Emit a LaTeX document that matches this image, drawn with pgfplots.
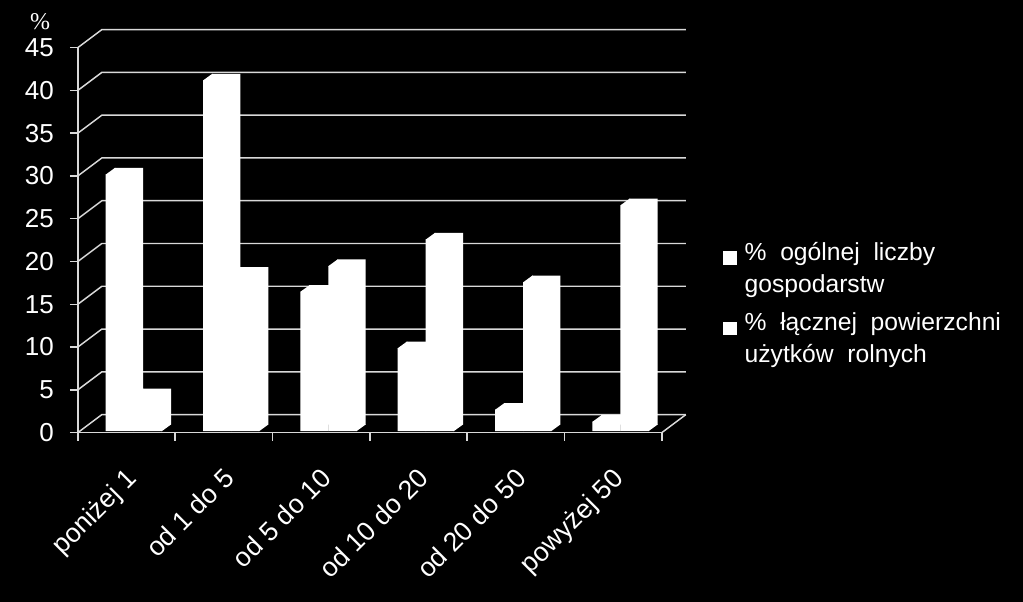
\documentclass[border=0pt]{standalone}
\usepackage{fontspec}
\setmainfont{Liberation Sans}
\newfontfamily\serifp{Liberation Serif}
\usepackage{pgfplots}
\usepackage{pgfplotstable}
\pgfplotsset{compat=1.18}
\definecolor{gl}{HTML}{D9D9D9}
\pgfplotstableread{
xc s1 s2
0.5 30.0 4.2
1.5 41.0 18.4
2.5 16.3 19.3
3.5 9.7 22.4
4.5 2.5 17.4
5.5 1.1 26.4
}\datatab
% corner pieces of the 3-D bars (1px = 0.75pt; depth 9px x 6.5px)
\pgfdeclareplotmark{topA}{\pgfpathmoveto{\pgfqpoint{-15.5pt}{-0.4pt}}\pgfpathlineto{\pgfqpoint{-15.5pt}{0pt}}\pgfpathlineto{\pgfqpoint{-8.75pt}{4.9pt}}\pgfpathlineto{\pgfqpoint{-8.3pt}{4.9pt}}\pgfpathlineto{\pgfqpoint{-8.3pt}{-0.4pt}}\pgfpathclose\pgfusepathqfill}
\pgfdeclareplotmark{botB}{\pgfpathmoveto{\pgfqpoint{26.1pt}{0pt}}\pgfpathlineto{\pgfqpoint{26.5pt}{0pt}}\pgfpathlineto{\pgfqpoint{33.25pt}{4.9pt}}\pgfpathlineto{\pgfqpoint{33.25pt}{5.3pt}}\pgfpathlineto{\pgfqpoint{26.1pt}{5.3pt}}\pgfpathclose\pgfusepathqfill}
\begin{document}
\begin{tikzpicture}[x=0.75pt,y=0.75pt]
\useasboundingbox (0,0) rectangle (1023,602);
\fill[black] (0,0) rectangle (1023,602);
\begin{axis}[
  at={(80,198)}, anchor=south west, scale only axis,
  width=438pt, height=288.75pt,
  xmin=0, xmax=6, ymin=0, ymax=45, clip=false,
  axis lines*=left,
  axis line style={gl, line width=1.1pt},
  every tick/.style={gl, line width=1.1pt},
  tick align=outside, major tick length=6pt,
  ytick={0,5,...,45},
  xtick={0,1,...,6}, xticklabels={},
  extra x ticks={0.5,1.5,2.5,3.5,4.5,5.5},
  extra x tick labels={poniżej 1,od 1 do 5,od 5 do 10,od 10 do 20,od 20 do 50,powyżej 50},
  extra x tick style={major tick length=0pt, tick label style={rotate=45, anchor=north east, xshift=-15.5pt, yshift=-13.5pt, font=\fontsize{20}{22}\selectfont}},
  tick label style={white, font=\fontsize{19.5}{22}\selectfont},
  yticklabel style={xshift=-8.5pt},
  /pgf/number format/assume math mode=true,
  bar width=21.2pt,
  legend style={at={(1.1036,0.5025)}, draw=none, fill=none, text=white, anchor=north west, legend cell align=left,
    font=\fontsize{18.5}{24}\selectfont, cells={align=left}, /tikz/row sep=10pt, /tikz/column sep=4pt, inner sep=0pt},
]
\pgfplotsinvokeforeach{0,5,...,45}{
  \draw[gl, line width=1.1pt] (axis cs:0,#1) -- ++(18pt,13.5pt) -- ++(438pt,0pt);
}
\draw[gl, line width=1.1pt] (axis cs:6,0) -- ++(18pt,13.5pt);
% front faces
\addplot[ybar, fill=white, draw=none, bar shift=-5pt, yshift=1.1pt, legend image code/.code={\fill[white] (0pt,1.5pt) rectangle (10.5pt,11.5pt);}] table[x=xc,y=s1] {\datatab};
\addlegendentry{\%\ \ ogólnej\ \ liczby\\gospodarstw}
\addplot[ybar, fill=white, draw=none, bar shift=16pt, yshift=1.1pt, legend image code/.code={\fill[white] (0pt,1.5pt) rectangle (10.5pt,11.5pt);}] table[x=xc,y=s2] {\datatab};
\addlegendentry{\%\ \ łącznej\ \ powierzchni\\użytków\ \ rolnych}
% back faces
\addplot[ybar, forget plot, fill=white, draw=none, bar shift=1.75pt, yshift=6pt] table[x=xc,y=s1] {\datatab};
\addplot[ybar, forget plot, fill=white, draw=none, bar shift=22.75pt, yshift=6pt] table[x=xc,y=s2] {\datatab};
% bevels
\addplot[only marks, forget plot, white, mark=topA, yshift=1.1pt] table[x=xc,y=s1] {\datatab};
\addplot[only marks, forget plot, white, mark=topA, yshift=1.1pt, xshift=21pt] table[x=xc,y=s2] {\datatab};
\addplot[only marks, forget plot, white, mark=botB, yshift=1.1pt] table[x=xc,y expr=0] {\datatab};
\end{axis}
\node[white, font=\serifp\fontsize{18}{20}\selectfont] at (40,580) {\%};
\end{tikzpicture}
\end{document}
